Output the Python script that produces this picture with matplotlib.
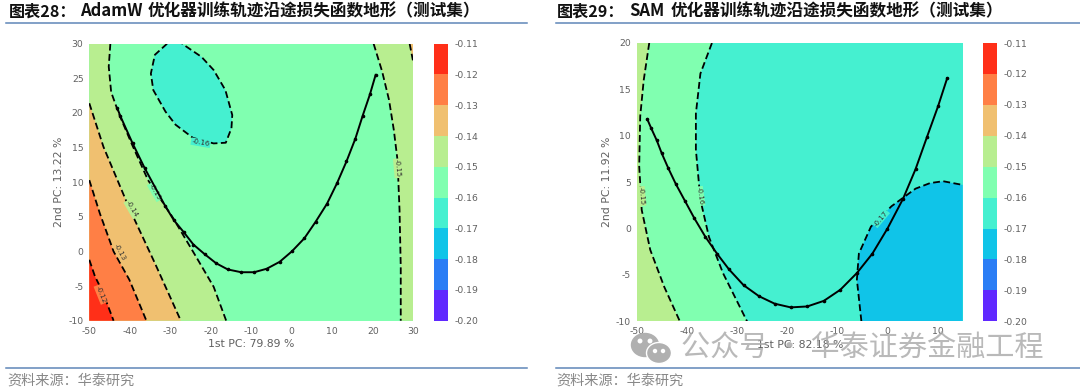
import matplotlib
matplotlib.use("Agg")
import matplotlib.pyplot as plt
from matplotlib.patches import Ellipse, Polygon

plt.rcParams['font.family'] = ['DejaVu Sans', 'Noto Sans CJK SC']
plt.rcParams['axes.unicode_minus'] = False

W, H = 1080, 392
GRAY = '#606060'

# colour bands of the shared colour bar, top to bottom
levels = [-0.20, -0.19, -0.18, -0.17, -0.16, -0.15, -0.14, -0.13, -0.12, -0.11]
band_colors = ['#6028ff', '#2a7df5', '#10c4e8', '#45f0d0', '#80ffb0',
               '#b8ee90', '#f0c070', '#ff7f45', '#ff2f18']
RED, ORANGE, SAND, LIME, MINT, TEAL, SKY = band_colors[8], band_colors[7], band_colors[6], band_colors[5], band_colors[4], band_colors[3], band_colors[2]

# AdamW panel
adam_xticks = [-50, -40, -30, -20, -10, 0, 10, 20, 30]
adam_yticks = [-10, -5, 0, 5, 10, 15, 20, 25, 30]
adam_c12_x = [-50, -48.6, -46.9, -45.3, -44]
adam_c12_y = [-1.2, -3.6, -5.6, -8, -10]
adam_c13_x = [-50, -47.4, -44, -40.1, -35.9]
adam_c13_y = [10.3, 5.5, 0, -4.1, -10]
adam_c14_x = [-50, -46.5, -40.1, -33.8, -27.4]
adam_c14_y = [21.4, 15.1, 6.2, -1.7, -10]
adam_c14b_x = [29.1, 29.9]
adam_c14b_y = [30, 27.6]
adam_c15l_x = [-44.8, -45.2, -44.6, -42.7, -39.5, -35.5, -29.5, -23.6, -19.3, -16.2]
adam_c15l_y = [30, 26.7, 23, 19.9, 15.5, 10.3, 5, -0.8, -5.1, -10]
adam_c15r_x = [20.2, 22.3, 24, 25.2, 26.1, 26.6, 26.9, 26.9]
adam_c15r_y = [30, 26, 21.9, 17.5, 13.2, 6, -2.2, -10]
adam_c16_x = [-30.8, -33.8, -34.8, -34.2, -31.2, -28.7, -24.4, -19.3, -16.3, -14.9, -14.7, -16.4, -19.3, -22.3, -27.1]
adam_c16_y = [30, 28.4, 25.7, 23.3, 20.2, 18.3, 16.4, 15.6, 15.7, 17.8, 19.7, 23.3, 26.2, 28.1, 30]
adam_path_x = [-43.1, -42.3, -39.3, -36.3, -31.2, -29.1, -26.7, -24.3, -21.5, -18.7, -15.8, -12.5, -9.3,
               -6.2, -3.0, 0, 3.1, 5.9, 8.7, 11.2, 13.5, 15.7, 17.5, 19.3, 20.7]
adam_path_y = [20.7, 19.5, 15.6, 12, 6.5, 4.5, 2.8, 1, -0.4, -1.7, -2.6, -3, -3,
               -2.5, -1.5, 0, 1.9, 4.3, 6.9, 9.9, 13, 16.3, 19.6, 22.7, 25.5]

# SAM panel
sam_xticks = [-50, -40, -30, -20, -10, 0, 10]
sam_yticks = [-10, -5, 0, 5, 10, 15, 20]
sam_c15_x = [-47.5, -48.6, -49.3, -49.5, -49, -47.3, -44.5, -41.4]
sam_c15_y = [20, 16, 12.1, 6.7, 2, -2.3, -6.3, -10]
sam_c16_x = [-35, -37.3, -38.2, -38.2, -37.3, -35.6, -32.8, -28]
sam_c16_y = [20, 16.7, 12.4, 8.5, 3.1, -0.9, -4.8, -10]
sam_c17_x = [-5.2, -6.1, -5.7, -3.3, 0.8, 5.6, 8.5, 11.1, 15]
sam_c17_y = [-10, -5.5, -2.7, 0.2, 2.4, 4.3, 4.9, 5.1, 4.7]
sam_path_x = [-47.9, -47.1, -46, -45, -43.7, -42.2, -40.4, -38.5, -36.3, -34, -31.6, -28.7, -25.6,
              -22.5, -19.3, -16, -12.7, -9.4, -6.1, -3, 0, 3.1, 5.6, 7.9, 10.1, 11.9]
sam_path_y = [11.8, 10.8, 9.5, 8.1, 6.5, 4.8, 3, 1.1, -0.9, -2.7, -4.4, -6.1, -7.3,
              -8.1, -8.5, -8.4, -7.8, -6.6, -4.8, -2.7, 0, 3.2, 6.4, 9.9, 13.2, 16.2]


def px_axes(fig, left, top, right, bottom):
    return fig.add_axes([left / W, 1 - bottom / H, (right - left) / W, (bottom - top) / H])


def fill_region(ax, xs, ys, extra, color):
    pts = list(zip(xs, ys)) + extra
    ax.add_patch(Polygon(pts, closed=True, facecolor=color, edgecolor='none', zorder=1))


def dashed(ax, xs, ys):
    ax.plot(xs, ys, color='black', lw=1.3, ls=(0, (3.8, 1.9)), zorder=2)


def contour_label(ax, x, y, s, angle, bg):
    ax.text(x, y, s, fontsize=5, color='#333333', rotation=angle, ha='center', va='center', zorder=3,
            bbox=dict(facecolor=bg, edgecolor='none', pad=0.5))


def style_axes(ax, xticks, yticks, xlabel, ylabel):
    ax.set_xlim(xticks[0], xticks[-1] if xticks[-1] == 30 else 15)
    ax.set_ylim(yticks[0], yticks[-1])
    ax.set_xticks(xticks)
    ax.set_yticks(yticks)
    ax.tick_params(length=0, labelsize=6.7, labelcolor=GRAY, pad=4.2)
    ax.set_xlabel(xlabel, fontsize=7.8, color=GRAY, labelpad=2.5)
    ax.set_ylabel(ylabel, fontsize=7.8, color=GRAY, labelpad=3)
    for s in ax.spines.values():
        s.set_visible(False)


def draw_colorbar(cax):
    for i, c in enumerate(band_colors):
        cax.bar(0, levels[i + 1] - levels[i], bottom=levels[i], width=1, color=c, align='edge')
    cax.set_xlim(0, 1)
    cax.set_ylim(levels[0], levels[-1])
    cax.set_xticks([])
    cax.yaxis.tick_right()
    cax.set_yticks(levels)
    cax.set_yticklabels([f'{v:.2f}' for v in levels])
    cax.tick_params(length=0, labelsize=6.7, labelcolor=GRAY, pad=4.7)
    for s in cax.spines.values():
        s.set_visible(False)


def draw_path(ax, xs, ys):
    ax.plot(xs, ys, color='black', lw=1.4, marker='o', ms=1.6, zorder=4)


fig = plt.figure(figsize=(W / 100, H / 100), dpi=100)

# left panel
ax = px_axes(fig, 89.3, 43.7, 413.3, 320.7)
ax.set_facecolor(MINT)
fill_region(ax, adam_c15l_x, adam_c15l_y, [(-50, -10), (-50, 30)], LIME)
fill_region(ax, adam_c15r_x, adam_c15r_y, [(30, -10), (30, 30)], LIME)
fill_region(ax, adam_c14_x, adam_c14_y, [(-50, -10)], SAND)
fill_region(ax, adam_c14b_x, adam_c14b_y, [(30, 30)], SAND)
fill_region(ax, adam_c13_x, adam_c13_y, [(-50, -10)], ORANGE)
fill_region(ax, adam_c12_x, adam_c12_y, [(-50, -10)], RED)
ax.add_patch(Polygon(list(zip(adam_c16_x, adam_c16_y)), closed=True, facecolor=TEAL, edgecolor='none', zorder=1))
for xs, ys in [(adam_c12_x, adam_c12_y), (adam_c13_x, adam_c13_y), (adam_c14_x, adam_c14_y),
               (adam_c14b_x, adam_c14b_y), (adam_c15l_x, adam_c15l_y), (adam_c15r_x, adam_c15r_y),
               (adam_c16_x, adam_c16_y)]:
    dashed(ax, xs, ys)
contour_label(ax, -47.2, -6.2, '-0.12', -68, ORANGE)
contour_label(ax, -42.5, -0.1, '-0.13', -62, SAND)
contour_label(ax, -39.6, 6.1, '-0.14', -60, LIME)
contour_label(ax, -33.8, 8.6, '-0.15', -60, MINT)
contour_label(ax, -22.5, 15.7, '-0.16', -10, TEAL)
contour_label(ax, 26.1, 12.0, '-0.15', -85, LIME)
draw_path(ax, adam_path_x, adam_path_y)
style_axes(ax, adam_xticks, adam_yticks, '1st PC: 79.89 %', '2nd PC: 13.22 %')
draw_colorbar(px_axes(fig, 434, 43.7, 447.7, 320.7))

# right panel
ax = px_axes(fig, 636.7, 43, 962.7, 321.3)
ax.set_facecolor(TEAL)
fill_region(ax, sam_c16_x, sam_c16_y, [(-50, -10), (-50, 20)], MINT)
fill_region(ax, sam_c15_x, sam_c15_y, [(-50, -10), (-50, 20)], LIME)
fill_region(ax, sam_c17_x, sam_c17_y, [(15, -10)], SKY)
for xs, ys in [(sam_c15_x, sam_c15_y), (sam_c16_x, sam_c16_y), (sam_c17_x, sam_c17_y)]:
    dashed(ax, xs, ys)
contour_label(ax, -49.0, 3.5, '-0.15', -85, LIME)
contour_label(ax, -37.3, 3.5, '-0.16', -82, MINT)
contour_label(ax, -1.3, 1.1, '-0.17', 50, TEAL)
draw_path(ax, sam_path_x, sam_path_y)
style_axes(ax, sam_xticks, sam_yticks, '1st PC: 82.18 %', '2nd PC: 11.92 %')
draw_colorbar(px_axes(fig, 983, 43, 997, 321.3))

# titles, rules and sources
cjk = ['Noto Sans CJK SC', 'DejaVu Sans']
title_parts = [(8.6, '图表28：', 11.6), (80, 'AdamW', 12), (148, '优化器训练轨迹沿途损失函数地形（测试集）', 12),
               (557, '图表29：', 11.6), (629, 'SAM', 12), (671, '优化器训练轨迹沿途损失函数地形（测试集）', 12)]
for x, s, size in title_parts:
    fig.text(x / W, 1 - 11.5 / H, s, family=cjk, fontsize=size, fontweight='bold', color='#111111', va='center')
for x0, x1 in [(6.2, 526.5), (555.5, 1080)]:
    for y in [23, 368]:
        fig.add_artist(plt.Line2D([x0 / W, x1 / W], [1 - y / H, 1 - y / H], color='#5f86b8', lw=1.1))
fig.text(7.6 / W, 1 - 380.5 / H, '资料来源：华泰研究', family=cjk, fontsize=10.2, color='#888888', va='center')
fig.text(556.5 / W, 1 - 380.5 / H, '资料来源：华泰研究', family=cjk, fontsize=10.2, color='#888888', va='center')

# watermark on top of the right panel's x axis
fig.text(681 / W, 1 - 347.5 / H, '公众号 · 华泰证券金融工程', family=cjk, fontsize=21,
         color='#a8a8a8', alpha=0.8, va='center', zorder=10)
wm_ax = fig.add_axes([0, 0, 1, 1], facecolor='none', zorder=9)
wm_ax.set_xlim(0, W)
wm_ax.set_ylim(H, 0)
wm_ax.axis('off')
wm_ax.add_patch(Ellipse((645, 345), 27, 23, color='#b0b0b0'))
wm_ax.add_patch(Ellipse((659, 353), 25, 21, ec='white', lw=1, fc='#b0b0b0'))
for ex, ey, es in [(640, 341, 3.5), (650, 341, 3.5), (655, 351, 3), (663, 351, 3)]:
    wm_ax.add_patch(Ellipse((ex, ey), es, es, color='white'))

fig.savefig('out.png', dpi=100)
